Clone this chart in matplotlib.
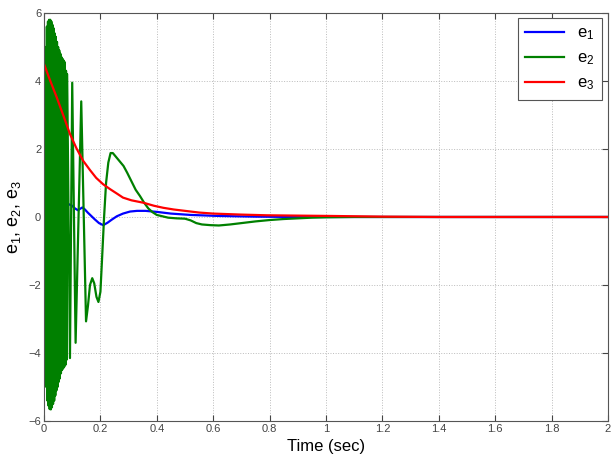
import numpy as np
import matplotlib
matplotlib.use("Agg")
import matplotlib.pyplot as plt

plt.rcParams['font.family'] = ['Liberation Sans', 'DejaVu Sans']
plt.rcParams['mathtext.fontset'] = 'custom'
plt.rcParams['mathtext.rm'] = 'Liberation Sans'
plt.rcParams['mathtext.it'] = 'Liberation Sans'
plt.rcParams['path.simplify'] = False

# ---- data ----
x_ticks = [0, 0.2, 0.4, 0.6, 0.8, 1.0, 1.2, 1.4, 1.6, 1.8, 2.0]
x_tick_labels = ['0', '0.2', '0.4', '0.6', '0.8', '1', '1.2', '1.4', '1.6', '1.8', '2']
y_ticks = [-6, -4, -2, 0, 2, 4, 6]

e1_t = [0.0, 0.02, 0.04, 0.06, 0.08, 0.098, 0.11, 0.12, 0.128, 0.136, 0.145, 0.155,
        0.165, 0.18, 0.195, 0.21, 0.225, 0.24, 0.258, 0.28, 0.305, 0.33, 0.36, 0.40,
        0.45, 0.52, 0.62, 0.75, 0.9, 2.0]
e1_v = [0.77, 0.68, 0.58, 0.48, 0.40, 0.34, 0.25, 0.20, 0.24, 0.28, 0.22, 0.13,
        0.05, -0.07, -0.18, -0.24, -0.17, -0.08, 0.02, 0.10, 0.16, 0.18, 0.18, 0.15,
        0.10, 0.06, 0.03, 0.01, 0.0, 0.0]

# e2: dense oscillation phase (one sample every 2 ms), then slower transient
e2_dense_v = [-1.2, 1.5, -4.0, 5.0, -5.0, 5.6, -5.4, 5.75, -5.55, 5.8,
              -5.65, 5.8, -5.66, 5.75, -5.6, 5.65, -5.5, 5.55, -5.4, 5.4,
              -5.25, 5.3, -5.1, 5.15, -5.0, 5.0, -4.85, 4.9, -4.75, 4.8,
              -4.6, 4.7, -4.5, 4.65, -4.45, 4.6, -4.4, 4.55, -4.35, 4.3,
              -4.2, 4.2]
e2_dense_t = [round(0.002 * k, 3) for k in range(len(e2_dense_v))]
e2_tail_t = [0.092, 0.100, 0.112, 0.132, 0.149, 0.156, 0.163, 0.171, 0.178, 0.186,
             0.193, 0.200, 0.206, 0.213, 0.220, 0.228, 0.236, 0.244, 0.252, 0.262,
             0.272, 0.282, 0.295, 0.31, 0.325, 0.34, 0.355, 0.37, 0.385, 0.40,
             0.42, 0.44, 0.47, 0.50, 0.52, 0.54, 0.56, 0.59, 0.62, 0.66, 0.70,
             0.75, 0.80, 0.85, 0.90, 0.95, 1.0, 1.1, 2.0]
e2_tail_v = [-4.15, 3.95, -3.7, 3.4, -3.07, -2.6, -2.0, -1.8, -1.95, -2.35,
             -2.5, -2.2, -1.2, 0.0, 1.0, 1.6, 1.88, 1.88, 1.8, 1.7,
             1.6, 1.5, 1.3, 1.05, 0.8, 0.62, 0.42, 0.25, 0.14, 0.06,
             0.02, -0.02, -0.04, -0.05, -0.1, -0.18, -0.22, -0.24, -0.25, -0.22, -0.18,
             -0.13, -0.09, -0.06, -0.04, -0.02, -0.01, 0.0, 0.0]

e3_t = [0.0, 0.02, 0.045, 0.07, 0.092, 0.115, 0.139, 0.163, 0.185, 0.21, 0.234,
        0.26, 0.28, 0.31, 0.352, 0.39, 0.423, 0.46, 0.5, 0.55, 0.6, 0.7, 0.79,
        0.9, 1.02, 1.2, 1.4, 2.0]
e3_v = [4.5, 4.05, 3.52, 2.95, 2.44, 2.02, 1.65, 1.38, 1.15, 0.96, 0.82,
        0.68, 0.57, 0.49, 0.42, 0.33, 0.27, 0.22, 0.18, 0.13, 0.10, 0.07, 0.05,
        0.04, 0.03, 0.01, 0.0, 0.0]

e2_t = e2_dense_t + e2_tail_t
e2_v = e2_dense_v + e2_tail_v

# ---- figure ----
fig = plt.figure(figsize=(6.14, 4.57), dpi=100)
ax = fig.add_axes([0.0717, 0.0788, 0.9185, 0.8928])

ax.plot(e1_t, e1_v, color=(0, 0, 1), lw=1.6, label='e$_1$')
ax.plot(e2_t, e2_v, color=(0, 0.5, 0), lw=1.6, label='e$_2$')
ax.plot(e3_t, e3_v, color=(1, 0, 0), lw=1.6, label='e$_3$')

ax.set_xlim(0, 2)
ax.set_ylim(-6, 6)
ax.set_xticks(x_ticks)
ax.set_xticklabels(x_tick_labels)
ax.set_yticks(y_ticks)
ax.tick_params(direction='in', top=True, right=True, labelsize=8, length=4,
               colors='#444444', pad=2)
ax.grid(True, linestyle=':', color='#bbbbbb', linewidth=0.7)
for s in ax.spines.values():
    s.set_color('#555555')
    s.set_linewidth(0.8)

ax.set_xlabel('Time (sec)', fontsize=12, labelpad=4)
ax.set_ylabel('e$_1$, e$_2$, e$_3$', fontsize=13, labelpad=4)

leg = ax.legend(loc='upper right', bbox_to_anchor=(0.9894, 0.9877), fontsize=12,
                fancybox=False, framealpha=1, edgecolor='#555555',
                handlelength=2.3, borderaxespad=0.0, labelspacing=0.5,
                borderpad=0.45, handletextpad=0.8)
leg.get_frame().set_linewidth(0.8)

fig.savefig('out.png', dpi=100)
